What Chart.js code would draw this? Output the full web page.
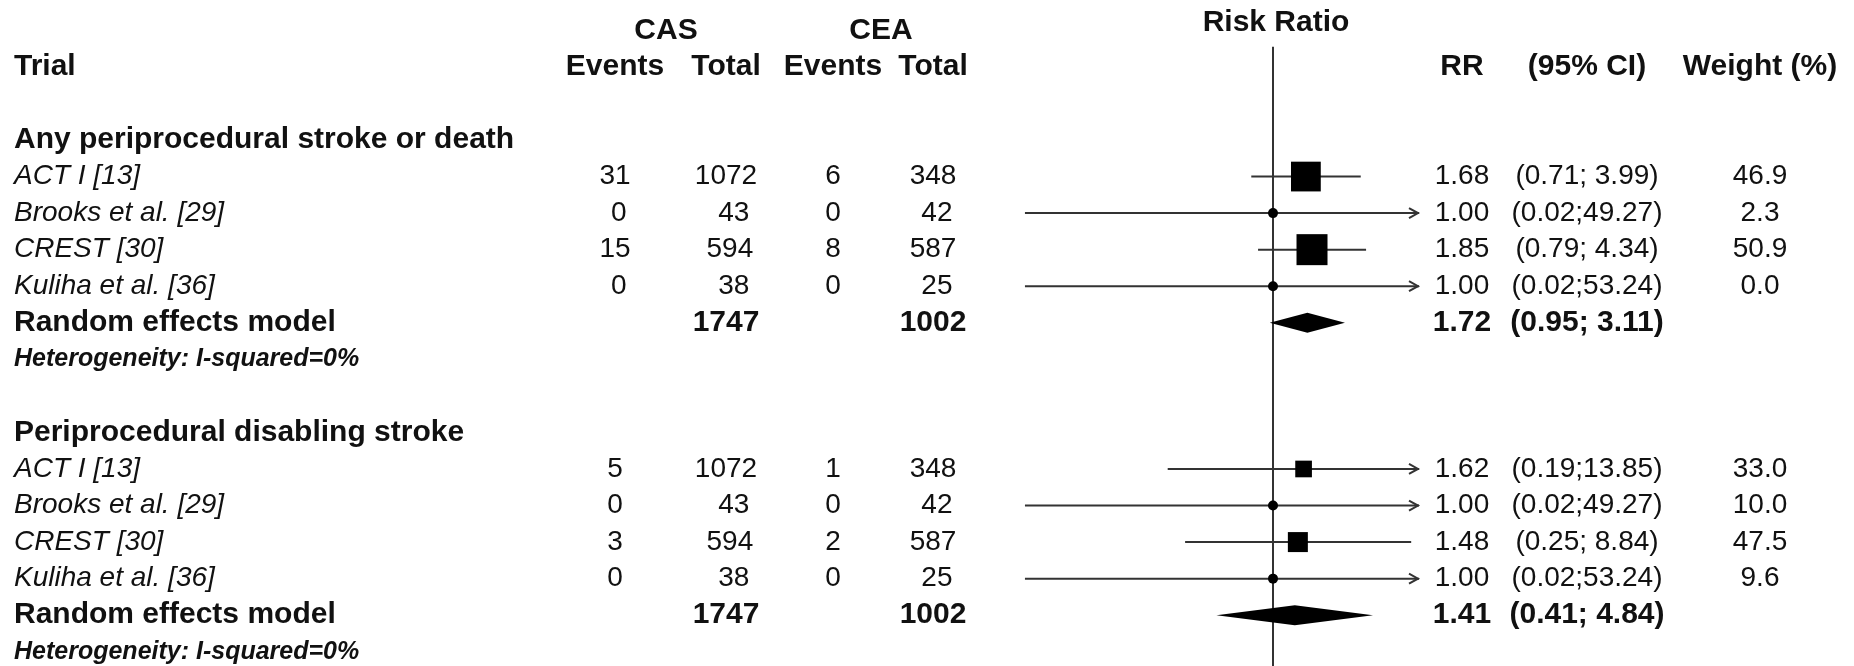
<!DOCTYPE html>
<html>
<head>
<meta charset="utf-8">
<title>Risk Ratio – CAS vs CEA</title>
<script src="https://cdn.jsdelivr.net/npm/chart.js@4.4.1/dist/chart.umd.min.js"></script>
<style>
  html, body { margin: 0; padding: 0; background: #fff; }
  #wrap { width: 1854px; height: 666px; }
</style>
</head>
<body>
<div id="wrap"><canvas id="forest" width="1854" height="666"></canvas></div>
<script>
// ---- study data ----------------------------------------------------------
const groupTitles = ['Any periprocedural stroke or death', 'Periprocedural disabling stroke'];
const trials = ['ACT I [13]', 'Brooks et al. [29]', 'CREST [30]', 'Kuliha et al. [36]'];

const casEvents = [[31, 0, 15, 0], [5, 0, 3, 0]];
const casTotal  = [[1072, 43, 594, 38], [1072, 43, 594, 38]];
const ceaEvents = [[6, 0, 8, 0], [1, 0, 2, 0]];
const ceaTotal  = [[348, 42, 587, 25], [348, 42, 587, 25]];

const rr     = [[1.68, 1.00, 1.85, 1.00], [1.62, 1.00, 1.48, 1.00]];
const ciLow  = [[0.71, 0.02, 0.79, 0.02], [0.19, 0.02, 0.25, 0.02]];
const ciHigh = [[3.99, 49.27, 4.34, 53.24], [13.85, 49.27, 8.84, 53.24]];
const weight = [[46.9, 2.3, 50.9, 0.0], [33.0, 10.0, 47.5, 9.6]];

const pooledLabel = 'Random effects model';
const pooledRR   = [1.72, 1.41];
const pooledLow  = [0.95, 0.41];
const pooledHigh = [3.11, 4.84];
const heterogeneity = ['Heterogeneity: I-squared=0%', 'Heterogeneity: I-squared=0%'];

// axis limits of the risk-ratio panel
const xLimits = [0.01, 10];

// ---- layout / style ------------------------------------------------------
const FAMILY = '"Liberation Sans", Arial, Helvetica, sans-serif';
const FONT_BOLD = 'bold 30px ' + FAMILY;
const FONT_REG = '28px ' + FAMILY;
const FONT_ITAL = 'italic 28px ' + FAMILY;
const FONT_HET = 'italic bold 25px ' + FAMILY;
const TEXT = '#111';
const LINE = '#333';
const BOX_MAX_SIDE = [31, 20];   // px side of the heaviest box in each panel
const DOT_RADIUS = 5;
const DIAMOND_HALF = 10;         // px
const ROW_STEP = 8;              // rows taken by one subgroup

const COL = {
  study: 14, cas: 666, cea: 881,
  casEv: 615, casTot: 726, ceaEv: 833, ceaTot: 933,
  rr: 1462, ci: 1587, w: 1760, riskRatio: 1276
};

const rowOf = (g, k) => g * ROW_STEP + k;

// pad a column of strings to equal length, like R's format()
function padCol(vals) {
  const s = vals.map(String);
  const n = Math.max(...s.map(v => v.length));
  return s.map(v => ' '.repeat(n - v.length) + v);
}
const sum = a => a.reduce((p, c) => p + c, 0);
const fmtCI = (lo, hi) => '(' + lo.toFixed(2) + ';' + hi.toFixed(2).padStart(5, ' ') + ')';

// ---- datasets ------------------------------------------------------------
const datasets = [];

// line of no effect
datasets.push({
  type: 'line',
  data: [{ x: 1, y: -2.55 }, { x: 1, y: 14.5 }],
  borderColor: LINE, borderWidth: 2, pointRadius: 0, order: 3
});

// confidence intervals
for (let g = 0; g < 2; g++) {
  for (let i = 0; i < trials.length; i++) {
    datasets.push({
      type: 'line',
      data: [{ x: ciLow[g][i], y: rowOf(g, 1 + i) }, { x: ciHigh[g][i], y: rowOf(g, 1 + i) }],
      borderColor: LINE, borderWidth: 2, pointRadius: 0, order: 2
    });
  }
}

// study estimates, box area proportional to weight
const pts = [], radii = [], styles = [];
for (let g = 0; g < 2; g++) {
  const wMax = Math.max(...weight[g]);
  for (let i = 0; i < trials.length; i++) {
    pts.push({ x: rr[g][i], y: rowOf(g, 1 + i) });
    const side = BOX_MAX_SIDE[g] * Math.sqrt(weight[g][i] / wMax);
    if (side < 10) { radii.push(DOT_RADIUS); styles.push('circle'); }
    else { radii.push(side / Math.SQRT2); styles.push('rect'); }
  }
}
datasets.push({
  type: 'scatter', data: pts,
  pointRadius: radii, pointHoverRadius: radii, pointStyle: styles,
  backgroundColor: '#000', borderColor: '#000', borderWidth: 0, order: 1
});

// ---- drawing plugin: pooled diamonds, arrows and the table text -----------
const forestPlugin = {
  id: 'forestTable',
  afterDatasetsDraw(chart) {
    const { ctx, chartArea } = chart;
    const x = chart.scales.x, y = chart.scales.y;
    ctx.save();
    // pooled estimates
    ctx.fillStyle = '#000';
    for (let g = 0; g < 2; g++) {
      const yc = y.getPixelForValue(rowOf(g, 5));
      const xl = x.getPixelForValue(pooledLow[g]);
      const xm = x.getPixelForValue(pooledRR[g]);
      const xh = x.getPixelForValue(pooledHigh[g]);
      ctx.beginPath();
      ctx.moveTo(xl, yc);
      ctx.lineTo(xm, yc - DIAMOND_HALF);
      ctx.lineTo(xh, yc);
      ctx.lineTo(xm, yc + DIAMOND_HALF);
      ctx.closePath();
      ctx.fill();
    }
    // arrows for intervals running past the axis limit
    ctx.strokeStyle = LINE;
    ctx.lineWidth = 2;
    ctx.lineJoin = 'miter';
    for (let g = 0; g < 2; g++) {
      for (let i = 0; i < trials.length; i++) {
        const yc = y.getPixelForValue(rowOf(g, 1 + i));
        if (ciHigh[g][i] > xLimits[1]) {
          const tip = chartArea.right - 1;
          ctx.beginPath();
          ctx.moveTo(tip - 9, yc - 5);
          ctx.lineTo(tip, yc);
          ctx.lineTo(tip - 9, yc + 5);
          ctx.stroke();
        }
        if (ciLow[g][i] < xLimits[0]) {
          const tip = chartArea.left + 1;
          ctx.beginPath();
          ctx.moveTo(tip + 9, yc - 5);
          ctx.lineTo(tip, yc);
          ctx.lineTo(tip + 9, yc + 5);
          ctx.stroke();
        }
      }
    }
    ctx.restore();
  },
  afterDraw(chart) {
    const { ctx } = chart;
    const y = chart.scales.y;
    ctx.save();
    ctx.fillStyle = TEXT;
    ctx.textBaseline = 'middle';
    const put = (s, px, row, align, font) => {
      ctx.font = font; ctx.textAlign = align;
      ctx.fillText(s, px, y.getPixelForValue(row));
    };
    // column headings
    put('CAS', COL.cas, -3, 'center', FONT_BOLD);
    put('CEA', COL.cea, -3, 'center', FONT_BOLD);
    put('Risk Ratio', COL.riskRatio, -3.2, 'center', FONT_BOLD);
    put('Trial', COL.study, -2, 'left', FONT_BOLD);
    put('Events', COL.casEv, -2, 'center', FONT_BOLD);
    put('Total', COL.casTot, -2, 'center', FONT_BOLD);
    put('Events', COL.ceaEv, -2, 'center', FONT_BOLD);
    put('Total', COL.ceaTot, -2, 'center', FONT_BOLD);
    put('RR', COL.rr, -2, 'center', FONT_BOLD);
    put('(95% CI)', COL.ci, -2, 'center', FONT_BOLD);
    put('Weight (%)', COL.w, -2, 'center', FONT_BOLD);

    for (let g = 0; g < 2; g++) {
      put(groupTitles[g], COL.study, rowOf(g, 0), 'left', FONT_BOLD);
      const ce = padCol(casEvents[g]), ct = padCol(casTotal[g]);
      const ee = padCol(ceaEvents[g]), et = padCol(ceaTotal[g]);
      for (let i = 0; i < trials.length; i++) {
        const r = rowOf(g, 1 + i);
        put(trials[i], COL.study, r, 'left', FONT_ITAL);
        put(ce[i], COL.casEv, r, 'center', FONT_REG);
        put(ct[i], COL.casTot, r, 'center', FONT_REG);
        put(ee[i], COL.ceaEv, r, 'center', FONT_REG);
        put(et[i], COL.ceaTot, r, 'center', FONT_REG);
        put(rr[g][i].toFixed(2), COL.rr, r, 'center', FONT_REG);
        put(fmtCI(ciLow[g][i], ciHigh[g][i]), COL.ci, r, 'center', FONT_REG);
        put(weight[g][i].toFixed(1), COL.w, r, 'center', FONT_REG);
      }
      const rp = rowOf(g, 5);
      put(pooledLabel, COL.study, rp, 'left', FONT_BOLD);
      put(String(sum(casTotal[g])), COL.casTot, rp, 'center', FONT_BOLD);
      put(String(sum(ceaTotal[g])), COL.ceaTot, rp, 'center', FONT_BOLD);
      put(pooledRR[g].toFixed(2), COL.rr, rp, 'center', FONT_BOLD);
      put(fmtCI(pooledLow[g], pooledHigh[g]), COL.ci, rp, 'center', FONT_BOLD);
      put(heterogeneity[g], COL.study, rowOf(g, 6), 'left', FONT_HET);
    }
    ctx.restore();
  }
};

// ---- chart ---------------------------------------------------------------
new Chart(document.getElementById('forest'), {
  type: 'scatter',
  data: { datasets },
  options: {
    responsive: false,
    animation: false,
    devicePixelRatio: 1,
    events: [],
    layout: { autoPadding: false, padding: { left: 981, right: 435, top: 0, bottom: 0 } },
    scales: {
      x: { type: 'logarithmic', min: xLimits[0], max: xLimits[1], display: false },
      y: { type: 'linear', min: -3.83, max: 14.39, reverse: true, display: false }
    },
    plugins: { legend: { display: false }, tooltip: { enabled: false } }
  },
  plugins: [forestPlugin]
});
</script>
</body>
</html>
